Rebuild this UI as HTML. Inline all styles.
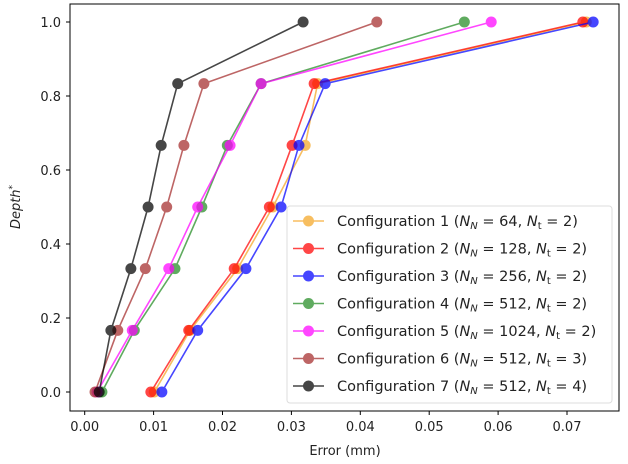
<!DOCTYPE html>
<html><head><meta charset="utf-8"><style>
body{margin:0;background:#fff;font-family:"DejaVu Sans","Liberation Sans",sans-serif}
svg text{font-family:"DejaVu Sans","Liberation Sans",sans-serif;fill:#222}
</style></head><body>
<svg id="chart" width="628" height="460" xmlns="http://www.w3.org/2000/svg">
<g id="ticks"></g><g id="series"></g>
<rect x="70" y="4" width="549" height="407" fill="none" stroke="#000" stroke-width="1"/>
<text x="345" y="455" font-size="13" text-anchor="middle">Error (mm)</text>
<text transform="translate(20,207) rotate(-90)" font-size="13" text-anchor="middle" font-style="italic">Depth<tspan dy="-5" font-size="9">*</tspan></text>
<g id="legend"></g>
</svg>
<script>
const depths=[0,1/6,2/6,0.5,4/6,5/6,1];
const xTicks=[0,0.01,0.02,0.03,0.04,0.05,0.06,0.07];
const xTickLabels=["0.00","0.01","0.02","0.03","0.04","0.05","0.06","0.07"];
const yTicks=[0,0.2,0.4,0.6,0.8,1.0];
const yTickLabels=["0.0","0.2","0.4","0.6","0.8","1.0"];
const config1=[0.0101,0.0153,0.0222,0.0273,0.0320,0.0338,0.0728];
const config2=[0.0096,0.0151,0.0217,0.0268,0.0301,0.0333,0.0723];
const config3=[0.0112,0.0164,0.0234,0.0285,0.0311,0.0349,0.0738];
const config4=[0.0025,0.0072,0.0131,0.0170,0.0207,0.0256,0.0551];
const config5=[0.0018,0.0069,0.0122,0.0164,0.0211,0.0256,0.0590];
const config6=[0.0015,0.0048,0.0088,0.0119,0.0144,0.0173,0.0424];
const config7=[0.0021,0.0038,0.0067,0.0092,0.0111,0.0135,0.0317];
const seriesNames=["Configuration 1","Configuration 2","Configuration 3","Configuration 4","Configuration 5","Configuration 6","Configuration 7"];
const nN=["64","128","256","512","1024","512","512"];
const nT=["2","2","2","2","2","3","4"];
const colors=["#f5a623","#ff0000","#0000ff","#228b22","#ff00ff","#a52a2a","#000000"];
const allSeries=[config1,config2,config3,config4,config5,config6,config7];
const NS="http://www.w3.org/2000/svg";
const xs=v=>84.7+v*6890, ys=v=>392-v*370;
function mk(t,a,p){const e=document.createElementNS(NS,t);for(const k in a)e.setAttribute(k,a[k]);p.appendChild(e);return e;}
const tg=document.getElementById('ticks');
xTicks.forEach((v,i)=>{
  const l=mk('line',{x1:xs(v),x2:xs(v),y1:411,y2:415,stroke:'#000'},tg);
  
  
  const t=mk('text',{x:xs(v),y:431,'font-size':13,'text-anchor':'middle'},tg);t.textContent=xTickLabels[i];
  
  
});
yTicks.forEach((v,i)=>{
  const l=mk('line',{x1:66,x2:70,y1:ys(v),y2:ys(v),stroke:'#000'},tg);
  
  
  const t=mk('text',{x:61,y:ys(v)+5,'font-size':13,'text-anchor':'end'},tg);t.textContent=yTickLabels[i];
  
  
});
const sg=document.getElementById('series');
allSeries.forEach((s,i)=>{
  const g=mk('g',{opacity:0.72},sg);
  
  
  mk('polyline',{points:s.map((v,j)=>xs(v)+','+ys(depths[j])).join(' '),fill:'none',stroke:colors[i],'stroke-width':1.6},g);
  s.forEach((v,j)=>{
    const c=mk('circle',{cx:xs(v),cy:ys(depths[j]),r:5.5,fill:colors[i]},g);
    
    
  });
});
const lg=document.getElementById('legend');
mk('rect',{x:287,y:206,width:325,height:197,rx:3,fill:'#fff','fill-opacity':0.85,stroke:'#ddd'},lg);
seriesNames.forEach((n,i)=>{
  const y=221+i*27.5;
  const g=mk('g',{},lg);
  
  
  const gg=mk('g',{opacity:0.72},g);
  mk('line',{x1:293,x2:324,y1:y,y2:y,stroke:colors[i],'stroke-width':1.6},gg);
  mk('circle',{cx:308.5,cy:y,r:5.5,fill:colors[i]},gg);
  const t=mk('text',{x:337,y:y+5,'font-size':14.5},g);
  t.innerHTML=n+' (<tspan font-style="italic">N</tspan><tspan font-size="10" font-style="italic" dy="3">N</tspan><tspan dy="-3"> = '+nN[i]+', </tspan><tspan font-style="italic">N</tspan><tspan font-size="10" dy="3">t</tspan><tspan dy="-3"> = '+nT[i]+')</tspan>';
});
</script>
</body></html>
